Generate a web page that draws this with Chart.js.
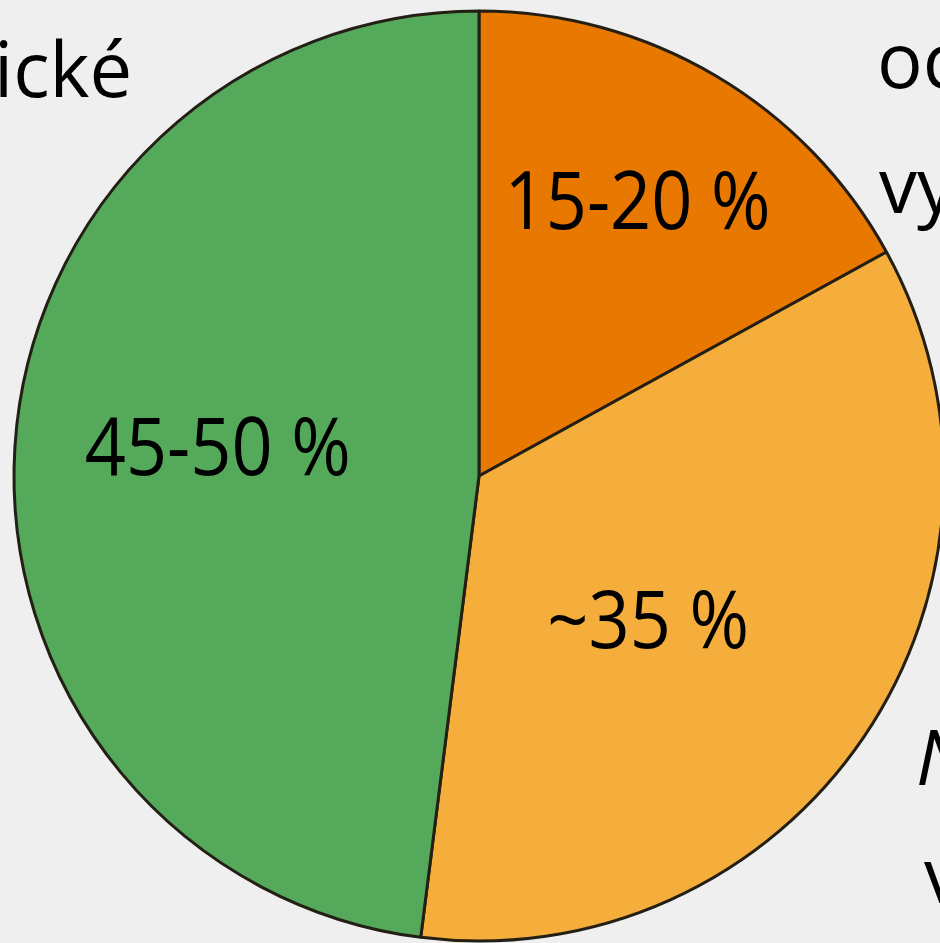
<!DOCTYPE html>
<html>
<head>
<meta charset="utf-8">
<script src="https://cdn.jsdelivr.net/npm/chart.js@4.4.1/dist/chart.umd.min.js"></script>
<style>
  html, body { margin: 0; padding: 0; background: #efefef; overflow: hidden; }
  #wrap { position: relative; width: 940px; height: 943px; }
</style>
</head>
<body>
<div id="wrap"><canvas id="pie" width="940" height="943"></canvas></div>
<script>
// shares, clockwise from 12 o'clock
const categories = ["oc vy", "N v", "ické"];
const shares = [17, 35, 48];
const shareLabels = ["15-20 %", "~35 %", "45-50 %"];
const sliceColors = ["#e87800", "#f5ad3c", "#55a95a"];

// where each share label sits inside its slice: [radius fraction, angle shift in degrees]
const labelPlacement = [[0.68, -0.5], [0.48, 6.5], [0.565, 2.5]];

// cut-off captions around the pie: [text, x, y, italic]
const sideTexts = [
  ["ické", -6, 97, false],
  ["oc", 877, 88, false],
  ["vy", 879, 213, false],
  ["N", 916, 785, true],
  ["v", 924, 903, false],
];

const FONT = '"Open Sans", "Noto Sans", sans-serif';

const labelsPlugin = {
  id: "shareLabels",
  beforeDraw(chart) {
    const { ctx } = chart;
    ctx.save();
    ctx.fillStyle = "#000";
    ctx.textAlign = "left";
    ctx.textBaseline = "alphabetic";
    sideTexts.forEach(([text, x, y, italic]) => {
      ctx.font = `${italic ? "italic " : ""}76px ${FONT}`;
      ctx.fillText(text, x, y);
    });
    ctx.restore();
  },
  afterDatasetsDraw(chart) {
    const { ctx } = chart;
    const meta = chart.getDatasetMeta(0);
    ctx.fillStyle = "#000";
    meta.data.forEach((arc, i) => {
      const { x, y, startAngle, endAngle, outerRadius } = arc.getProps(["x", "y", "startAngle", "endAngle", "outerRadius"], true);
      const [rf, shift] = labelPlacement[i];
      const mid = (startAngle + endAngle) / 2 + shift * Math.PI / 180;
      const r = outerRadius * rf;
      ctx.save();
      // slightly condensed glyphs, nudged down to centre the digits
      ctx.translate(x + Math.cos(mid) * r, y + Math.sin(mid) * r + 4);
      ctx.scale(0.9, 1);
      ctx.font = `80px ${FONT}`;
      ctx.textAlign = "center";
      ctx.textBaseline = "middle";
      ctx.fillText(shareLabels[i], 0, 0);
      ctx.restore();
    });
  },
};

new Chart(document.getElementById("pie"), {
  type: "pie",
  data: {
    labels: categories,
    datasets: [
      {
        data: shares,
        backgroundColor: sliceColors,
        borderColor: "#241f14",
        borderWidth: 3,
        radius: 465,
        clip: false,
      },
    ],
  },
  options: {
    responsive: false,
    animation: false,
    devicePixelRatio: 1,
    layout: { padding: { left: 18, right: 0, top: 9, bottom: 0 } },
    plugins: {
      legend: { display: false },
      tooltip: { enabled: false },
    },
  },
  plugins: [labelsPlugin],
});
</script>
</body>
</html>
